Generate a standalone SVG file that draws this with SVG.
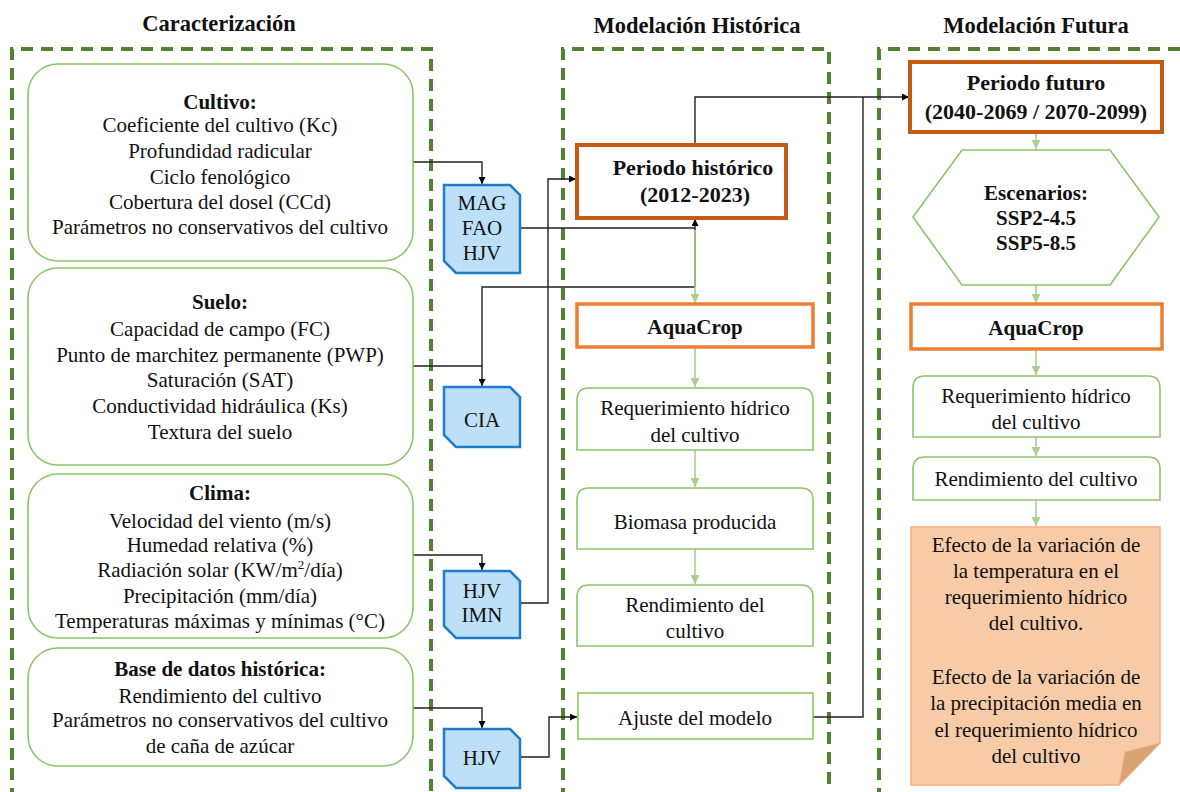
<svg xmlns="http://www.w3.org/2000/svg" width="1180" height="792" viewBox="0 0 1180 792">
<defs>
<style>
text{font-family:"Liberation Serif","Times New Roman",serif;fill:#111;text-anchor:middle}
.t{font-size:21px}
.b{font-size:21px;font-weight:bold}
.bb{font-size:22px;font-weight:bold}
.h{font-size:22.5px;font-weight:bold}
.cont{fill:none;stroke:#548235;stroke-width:4;stroke-dasharray:12 8}
.gbox{fill:#fff;stroke:#8CC56A;stroke-width:1.6}
.doc{fill:#BDE0F8;stroke:#1F7CC8;stroke-width:2.5}
.per{fill:#fff;stroke:#C55A11;stroke-width:4}
.aq{fill:#fff;stroke:#ED7D31;stroke-width:3.5}
.k{fill:none;stroke:#222;stroke-width:1.4;marker-end:url(#ak)}
.kn{fill:none;stroke:#222;stroke-width:1.4}
.g{fill:none;stroke:#A9D18E;stroke-width:1.6;marker-end:url(#ag)}
</style>
<marker id="ak" viewBox="0 0 10 10" refX="10" refY="5" markerWidth="7" markerHeight="7" markerUnits="userSpaceOnUse" orient="auto"><path d="M0,0 L10,5 L0,10 Z" fill="#000"/></marker>
<marker id="ag" viewBox="0 0 10 10" refX="10" refY="5" markerWidth="9" markerHeight="9" markerUnits="userSpaceOnUse" orient="auto"><path d="M0,0 L10,5 L0,10 Z" fill="#A9D18E"/></marker>
</defs>
<rect width="1180" height="792" fill="#fff"/>

<g id="titles">
<text class="h" x="219" y="31">Caracterización</text>
<text class="h" x="697" y="33">Modelación Histórica</text>
<text class="h" x="1036" y="33">Modelación Futura</text>
</g>

<g id="containers">
<path class="cont" d="M12,800 V49 H431 V800"/>
<path class="cont" d="M563,800 V49 H829 V800"/>
<path class="cont" d="M879,800 V49 H1190"/>
</g>

<g id="connectors">
<path class="kn" d="M520,228 H695"/>
<path class="k" d="M413,162 H482 V184"/>
<path class="k" d="M413,366 H482 V386"/>
<path class="k" d="M482,366 V287 H695 V219"/>
<path class="k" d="M520,603 H548 V179 H576"/>
<path class="k" d="M413,555 H482 V570"/>
<path class="k" d="M413,708 H482 V728"/>
<path class="k" d="M520,757 H549 V717 H577"/>
<path class="kn" d="M813,717 H863 V97"/>
<path class="k" d="M695,145 V97 H909"/>
<path class="g" d="M695,230 V303"/>
<path class="g" d="M695,348 V387"/>
<path class="g" d="M695,450 V487"/>
<path class="g" d="M695,549 V584"/>
<path class="g" d="M1036,133 V149"/>
<path class="g" d="M1036,285 V303"/>
<path class="g" d="M1036,350 V375"/>
<path class="g" d="M1036,437 V456"/>
<path class="g" d="M1036,500 V526"/>
</g>

<g id="cultivo">
<rect class="gbox" x="28" y="64" width="385" height="197" rx="30"/>
<text class="b" x="220" y="109">Cultivo:</text>
<text class="t" x="220" y="132">Coeficiente del cultivo (Kc)</text>
<text class="t" x="220" y="158">Profundidad radicular</text>
<text class="t" x="220" y="184">Ciclo fenológico</text>
<text class="t" x="220" y="209">Cobertura del dosel (CCd)</text>
<text class="t" x="220" y="234">Parámetros no conservativos del cultivo</text>
</g>

<g id="suelo">
<rect class="gbox" x="28" y="268" width="385" height="197" rx="30"/>
<text class="b" x="220" y="309">Suelo:</text>
<text class="t" x="220" y="336">Capacidad de campo (FC)</text>
<text class="t" x="220" y="362">Punto de marchitez permanente (PWP)</text>
<text class="t" x="220" y="387">Saturación (SAT)</text>
<text class="t" x="220" y="413">Conductividad hidráulica (Ks)</text>
<text class="t" x="220" y="439">Textura del suelo</text>
</g>

<g id="clima">
<rect class="gbox" x="28" y="474" width="385" height="164" rx="30"/>
<text class="b" x="220" y="500">Clima:</text>
<text class="t" x="220" y="528">Velocidad del viento (m/s)</text>
<text class="t" x="220" y="552">Humedad relativa (%)</text>
<text class="t" x="220" y="577">Radiación solar (KW/m<tspan font-size="13" dy="-8">2</tspan><tspan dy="8">/día)</tspan></text>
<text class="t" x="220" y="603">Precipitación (mm/día)</text>
<text class="t" x="220" y="628">Temperaturas máximas y mínimas (°C)</text>
</g>

<g id="base">
<rect class="gbox" x="28" y="648" width="385" height="118" rx="30"/>
<text class="b" x="220" y="676">Base de datos histórica:</text>
<text class="t" x="220" y="703">Rendimiento del cultivo</text>
<text class="t" x="220" y="727">Parámetros no conservativos del cultivo</text>
<text class="t" x="220" y="753">de caña de azúcar</text>
</g>

<g id="src-mag">
<path class="doc" d="M444,185 H510 L520,195 V273 H456 L444,261 Z"/>
<text class="t" x="482" y="210">MAG</text>
<text class="t" x="482" y="235">FAO</text>
<text class="t" x="482" y="260">HJV</text>
</g>
<g id="src-cia">
<path class="doc" d="M444,387 H510 L520,397 V447 H456 L444,435 Z"/>
<text class="t" x="482" y="427">CIA</text>
</g>
<g id="src-hjv-imn">
<path class="doc" d="M444,571 H510 L520,581 V638 H456 L444,626 Z"/>
<text class="t" x="482" y="598">HJV</text>
<text class="t" x="482" y="622">IMN</text>
</g>
<g id="src-hjv">
<path class="doc" d="M444,729 H510 L520,739 V788 H456 L444,776 Z"/>
<text class="t" x="482" y="765">HJV</text>
</g>

<g id="periodo-historico">
<rect class="per" x="577" y="145" width="209" height="73"/>
<text class="bb" x="693" y="175">Periodo histórico</text>
<text class="bb" x="695" y="202">(2012-2023)</text>
</g>
<g id="aquacrop-hist">
<rect class="aq" x="577" y="304" width="236" height="43"/>
<text class="b" x="695" y="334">AquaCrop</text>
</g>
<g id="req-hist">
<path class="gbox" d="M577,450 V400 Q577,388 589,388 H801 Q813,388 813,400 V450 Z"/>
<text class="t" x="695" y="415">Requerimiento hídrico</text>
<text class="t" x="695" y="442">del cultivo</text>
</g>
<g id="biomasa">
<path class="gbox" d="M577,549 V500 Q577,488 589,488 H801 Q813,488 813,500 V549 Z"/>
<text class="t" x="695" y="529">Biomasa producida</text>
</g>
<g id="rend-hist">
<path class="gbox" d="M577,646 V597 Q577,585 589,585 H801 Q813,585 813,597 V646 Z"/>
<text class="t" x="695" y="612">Rendimiento del</text>
<text class="t" x="695" y="638">cultivo</text>
</g>
<g id="ajuste">
<rect class="gbox" x="578" y="693" width="235" height="46"/>
<text class="t" x="695" y="725">Ajuste del modelo</text>
</g>

<g id="periodo-futuro">
<rect class="per" x="910" y="62" width="252" height="70"/>
<text class="bb" x="1036" y="90">Periodo futuro</text>
<text class="bb" x="1036" y="119">(2040-2069 / 2070-2099)</text>
</g>
<g id="escenarios">
<path class="gbox" d="M962,150 H1110 L1159,217 L1110,285 H962 L913,217 Z"/>
<text class="b" x="1036" y="200">Escenarios:</text>
<text class="b" x="1036" y="225">SSP2-4.5</text>
<text class="b" x="1036" y="250">SSP5-8.5</text>
</g>
<g id="aquacrop-fut">
<rect class="aq" x="911" y="304" width="251" height="45"/>
<text class="b" x="1036" y="335">AquaCrop</text>
</g>
<g id="req-fut">
<path class="gbox" d="M913,437 V388 Q913,376 925,376 H1148 Q1160,376 1160,388 V437 Z"/>
<text class="t" x="1036" y="403">Requerimiento hídrico</text>
<text class="t" x="1036" y="429">del cultivo</text>
</g>
<g id="rend-fut">
<path class="gbox" d="M913,500 V469 Q913,457 925,457 H1148 Q1160,457 1160,469 V500 Z"/>
<text class="t" x="1036" y="486">Rendimiento del cultivo</text>
</g>
<g id="efecto">
<path d="M911,527 H1160 V743 L1119,785 H911 Z" fill="#F7CBA8" stroke="#F4B183" stroke-width="1.5"/>
<path d="M1160,743 L1119,785 L1125,752 Z" fill="#D9A272" stroke="#F4B183" stroke-width="1"/>
<text class="t" x="1036" y="552">Efecto de la variación de</text>
<text class="t" x="1036" y="578">la temperatura en el</text>
<text class="t" x="1036" y="604">requerimiento hídrico</text>
<text class="t" x="1036" y="630">del cultivo.</text>
<text class="t" x="1036" y="684">Efecto de la variación de</text>
<text class="t" x="1036" y="710">la precipitación media en</text>
<text class="t" x="1036" y="737">el requerimiento hídrico</text>
<text class="t" x="1036" y="763">del cultivo</text>
</g>
</svg>
